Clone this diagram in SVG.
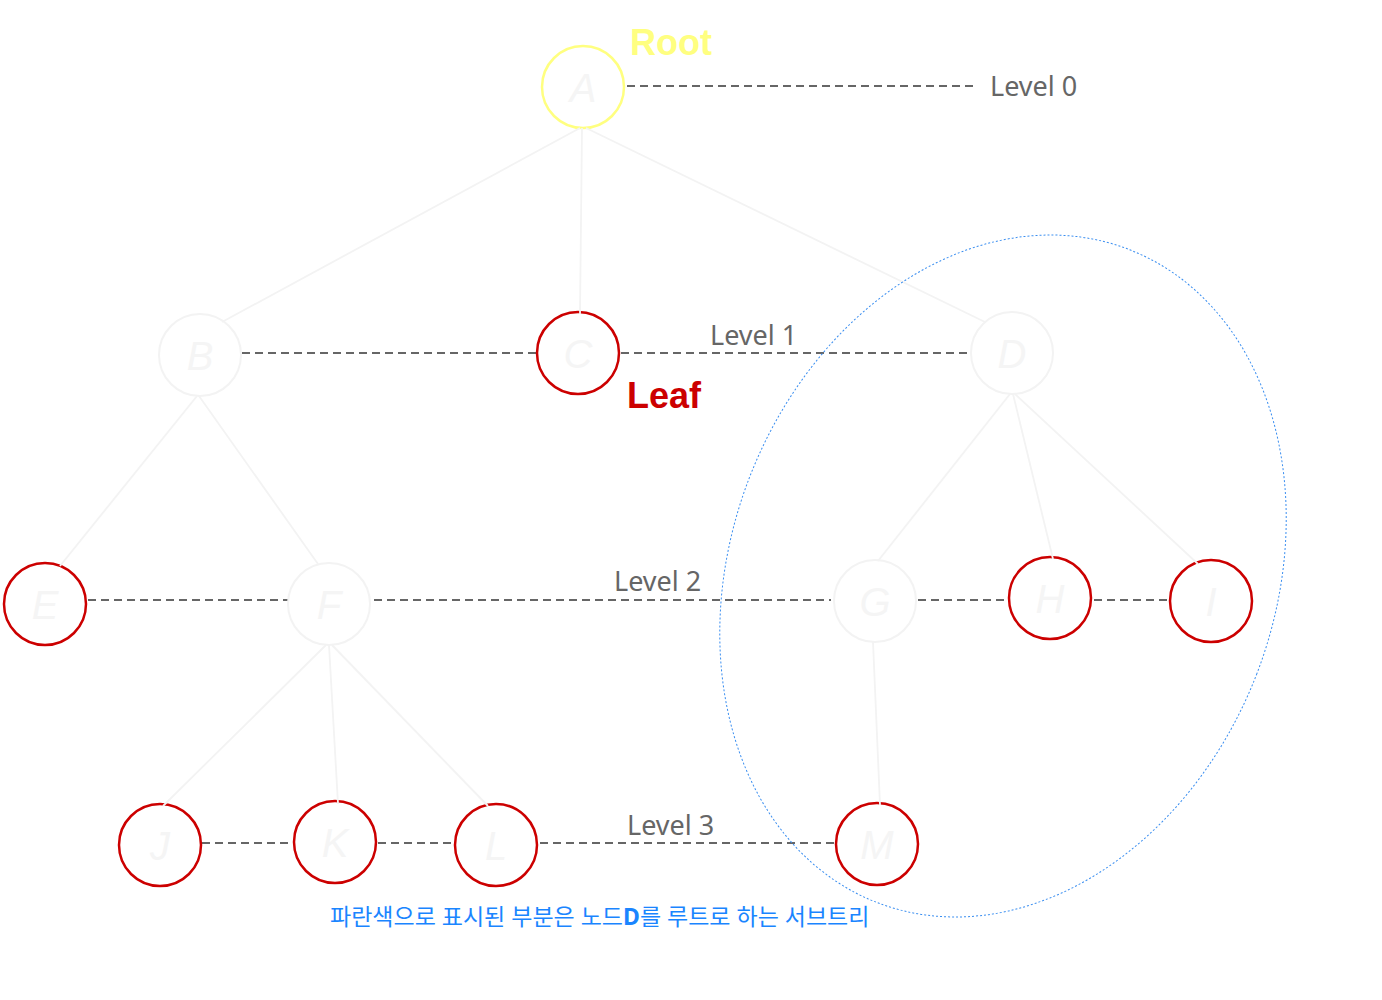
<svg xmlns="http://www.w3.org/2000/svg" width="1382" height="1000" viewBox="0 0 1382 1000">
<style>
.bg{fill:#ffffff}
.node circle{fill:none;stroke:#f3f3f3;stroke-width:2}
.node.leaf circle{stroke:#cc0000;stroke-width:2.5}
.node.root circle{stroke:#ffff80;stroke-width:2.5}
.node text{font-family:"Liberation Sans",Arial,sans-serif;font-style:italic;font-size:40px;fill:#f5f5f5;text-anchor:middle}
.edge{stroke:#f3f3f3;stroke-width:1.8;fill:none}
.lvl{stroke:#666666;stroke-width:2;stroke-dasharray:8 5;fill:none}
.lvltext{font-family:"Noto Sans","Open Sans",sans-serif;font-size:27px;fill:#666666}
.sub{fill:none;stroke:#3a8ef0;stroke-width:1;stroke-dasharray:2 2}
</style>
<rect class="bg" x="0" y="0" width="1382" height="1000"/>

<g id="levels">
<line class="lvl" x1="627" y1="86" x2="975" y2="86"/>
<line class="lvl" x1="242" y1="353" x2="536" y2="353"/>
<line class="lvl" x1="621" y1="353" x2="970" y2="353"/>
<line class="lvl" x1="88" y1="600" x2="288" y2="600"/>
<line class="lvl" x1="374" y1="600" x2="831" y2="600"/>
<line class="lvl" x1="918" y1="600" x2="1008" y2="600"/>
<line class="lvl" x1="1094" y1="600" x2="1170" y2="600"/>
<line class="lvl" x1="202" y1="843" x2="293" y2="843"/>
<line class="lvl" x1="378" y1="843" x2="455" y2="843"/>
<line class="lvl" x1="540" y1="843" x2="836" y2="843"/>
<text class="lvltext" x="990" y="96">Level 0</text>
<text class="lvltext" x="710" y="345">Level 1</text>
<text class="lvltext" x="614" y="591">Level 2</text>
<text class="lvltext" x="627" y="835">Level 3</text>
</g>

<g id="node-A" class="node root"><circle cx="583" cy="87" r="41"/><text x="583" y="102">A</text></g>
<g id="node-B" class="node"><circle cx="200" cy="355" r="41"/><text x="200" y="370">B</text></g>
<g id="node-C" class="node leaf"><circle cx="578" cy="353" r="41"/><text x="578" y="368">C</text></g>
<g id="node-D" class="node"><circle cx="1012" cy="353" r="41"/><text x="1012" y="368">D</text></g>
<g id="node-E" class="node leaf"><circle cx="45" cy="604" r="41"/><text x="45" y="619">E</text></g>
<g id="node-F" class="node"><circle cx="329" cy="604" r="41"/><text x="329" y="619">F</text></g>
<g id="node-G" class="node"><circle cx="875" cy="601" r="41"/><text x="875" y="616">G</text></g>
<g id="node-H" class="node leaf"><circle cx="1050" cy="598" r="41"/><text x="1050" y="613">H</text></g>
<g id="node-I" class="node leaf"><circle cx="1211" cy="601" r="41"/><text x="1211" y="616">I</text></g>
<g id="node-J" class="node leaf"><circle cx="160" cy="845" r="41"/><text x="160" y="860">J</text></g>
<g id="node-K" class="node leaf"><circle cx="335" cy="842" r="41"/><text x="335" y="857">K</text></g>
<g id="node-L" class="node leaf"><circle cx="496" cy="845" r="41"/><text x="496" y="860">L</text></g>
<g id="node-M" class="node leaf"><circle cx="877" cy="844" r="41"/><text x="877" y="859">M</text></g>

<g id="connectors">
<line class="edge" x1="580" y1="128" x2="222" y2="322"/>
<line class="edge" x1="582" y1="128" x2="580" y2="314"/>
<line class="edge" x1="586" y1="128" x2="985" y2="322"/>
<line class="edge" x1="197" y1="396" x2="60" y2="566"/>
<line class="edge" x1="199" y1="396" x2="318" y2="564"/>
<line class="edge" x1="1010" y1="394" x2="878" y2="561"/>
<line class="edge" x1="1013" y1="394" x2="1053" y2="559"/>
<line class="edge" x1="1015" y1="394" x2="1198" y2="564"/>
<line class="edge" x1="326" y1="645" x2="163" y2="806"/>
<line class="edge" x1="329" y1="645" x2="338" y2="804"/>
<line class="edge" x1="332" y1="645" x2="488" y2="806"/>
<line class="edge" x1="873" y1="642" x2="880" y2="805"/>
</g>

<g id="subtree">
<ellipse class="sub" cx="1003" cy="576" rx="272" ry="350" transform="rotate(21 1003 576)"/>
</g>

<g id="labels">
<text x="630" y="55" style="font-family:'Liberation Sans',Arial,sans-serif;font-weight:bold;font-size:36px;fill:#ffff80">Root</text>
<text x="627" y="408" style="font-family:'Liberation Sans',Arial,sans-serif;font-weight:bold;font-size:36px;fill:#cc0000">Leaf</text>
<text x="330" y="925" style="font-family:'Noto Sans','Noto Sans CJK KR',sans-serif;font-size:23px;fill:#1a85ff">파란색으로 표시된 부분은 노드<tspan font-weight="bold">D</tspan>를 루트로 하는 서브트리</text>
</g>
</svg>
